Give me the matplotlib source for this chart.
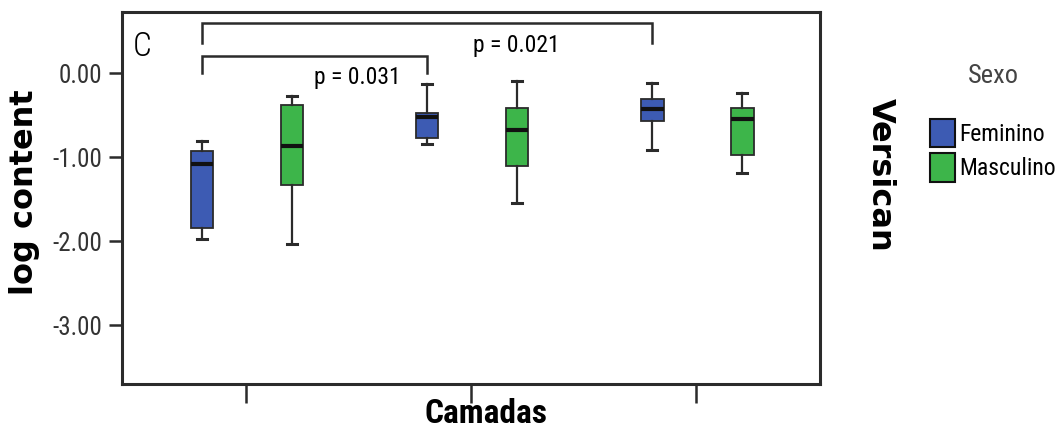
import numpy as np
import matplotlib.pyplot as plt
from matplotlib.patches import Patch

# layers (Camadas) and sex groups
camadas = [0, 1, 2]
sexos = ['Feminino', 'Masculino']
cores = ['#3D5BB3', '#3DB54A']

# box stats: whisker low, q1, median, q3, whisker high
fem_lo = [-1.97, -0.84, -0.91]
fem_q1 = [-1.84, -0.77, -0.57]
fem_med = [-1.08, -0.52, -0.42]
fem_q3 = [-0.92, -0.47, -0.31]
fem_hi = [-0.81, -0.13, -0.11]

mas_lo = [-2.03, -1.55, -1.19]
mas_q1 = [-1.33, -1.10, -0.97]
mas_med = [-0.86, -0.68, -0.55]
mas_q3 = [-0.38, -0.41, -0.41]
mas_hi = [-0.27, -0.09, -0.23]

yticks = [0, -1, -2, -3]
ytick_labels = ['0.00', '-1.00', '-2.00', '-3.00']

# significance brackets: (layer a, layer b, bar height, leg bottom, text)
comparacoes = [(0, 1, 0.206, 0.0, 'p = 0.031'),
               (0, 2, 0.60, 0.36, 'p = 0.021')]

NARROW = ['Roboto Condensed', 'DejaVu Sans']
EDGE = '#2b2b2b'

fig = plt.figure(figsize=(10.63, 4.34), dpi=100)
ax = fig.add_axes([0.1148, 0.1152, 0.6566, 0.8572])

desloc = [-0.195, 0.205]
dados = [(fem_lo, fem_q1, fem_med, fem_q3, fem_hi),
         (mas_lo, mas_q1, mas_med, mas_q3, mas_hi)]
for k, (lo, q1, med, q3, hi) in enumerate(dados):
    stats = []
    for i in range(len(camadas)):
        stats.append(dict(whislo=lo[i], q1=q1[i], med=med[i], q3=q3[i], whishi=hi[i]))
    pos = [c + desloc[k] for c in camadas]
    ax.bxp(stats, positions=pos, widths=0.1, patch_artist=True, showfliers=False,
           capwidths=0.045,
           boxprops=dict(facecolor=cores[k], edgecolor=EDGE, lw=1.3),
           medianprops=dict(color='#111111', lw=3),
           whiskerprops=dict(color=EDGE, lw=1.6),
           capprops=dict(color=EDGE, lw=2.2))

# brackets
for a, b, h, base, txt in comparacoes:
    xa = camadas[a] + desloc[0]
    xb = camadas[b] + desloc[0]
    ax.plot([xa, xa, xb, xb], [base, h, h, base], color=EDGE, lw=1.8,
            solid_joinstyle='miter')
ax.text(0.497, -0.05, comparacoes[0][4], ha='center', va='center',
        fontsize=17, family=NARROW)
ax.text(1.20, 0.325, comparacoes[1][4], ha='center', va='center',
        fontsize=17, family=NARROW)

ax.text(-0.46, 0.31, 'C', ha='center', va='center', fontsize=24,
        family=NARROW, fontweight='light')

ax.set_xlim(-0.55, 2.55)
ax.set_ylim(-3.70, 0.73)
ax.set_xticks(camadas)
ax.set_xticklabels([])
ax.set_yticks(yticks)
ax.set_yticklabels(ytick_labels, family=NARROW, fontsize=18, color='#333333')
ax.tick_params(axis='y', length=9.5, width=1.8, color=EDGE, pad=5)
ax.tick_params(axis='x', length=14, width=1.8, color=EDGE)
for s in ax.spines.values():
    s.set_linewidth(2.2)
    s.set_color(EDGE)

fig.text(25 / 1063, 1 - 192 / 434, 'log content', rotation=90, ha='center', va='center',
         fontsize=23, fontweight='bold', family='DejaVu Sans')
fig.text(486 / 1063, 1 - 414 / 434, 'Camadas', ha='center', va='center',
         fontsize=24, fontweight='bold', family=NARROW)
fig.text(880 / 1063, 1 - 175 / 434, 'Versican', rotation=-90, ha='center', va='center',
         fontsize=23, fontweight='bold', family='DejaVu Sans')

handles = [Patch(facecolor=cores[i], edgecolor='#111111', lw=1.5) for i in range(2)]
leg = fig.legend(handles, sexos, title='Sexo', loc='upper left',
                 bbox_to_anchor=(930 / 1063, 1 - 64 / 434), frameon=False,
                 borderpad=0, borderaxespad=0, handlelength=1.05, handleheight=1.5,
                 handletextpad=0.2, labelspacing=0.25,
                 prop=dict(family=NARROW, size=17),
                 title_fontproperties=dict(family=NARROW, size=19))
leg.get_title().set_color('#444444')
leg._legend_box.sep = 22

fig.savefig('out.png', dpi=100)
